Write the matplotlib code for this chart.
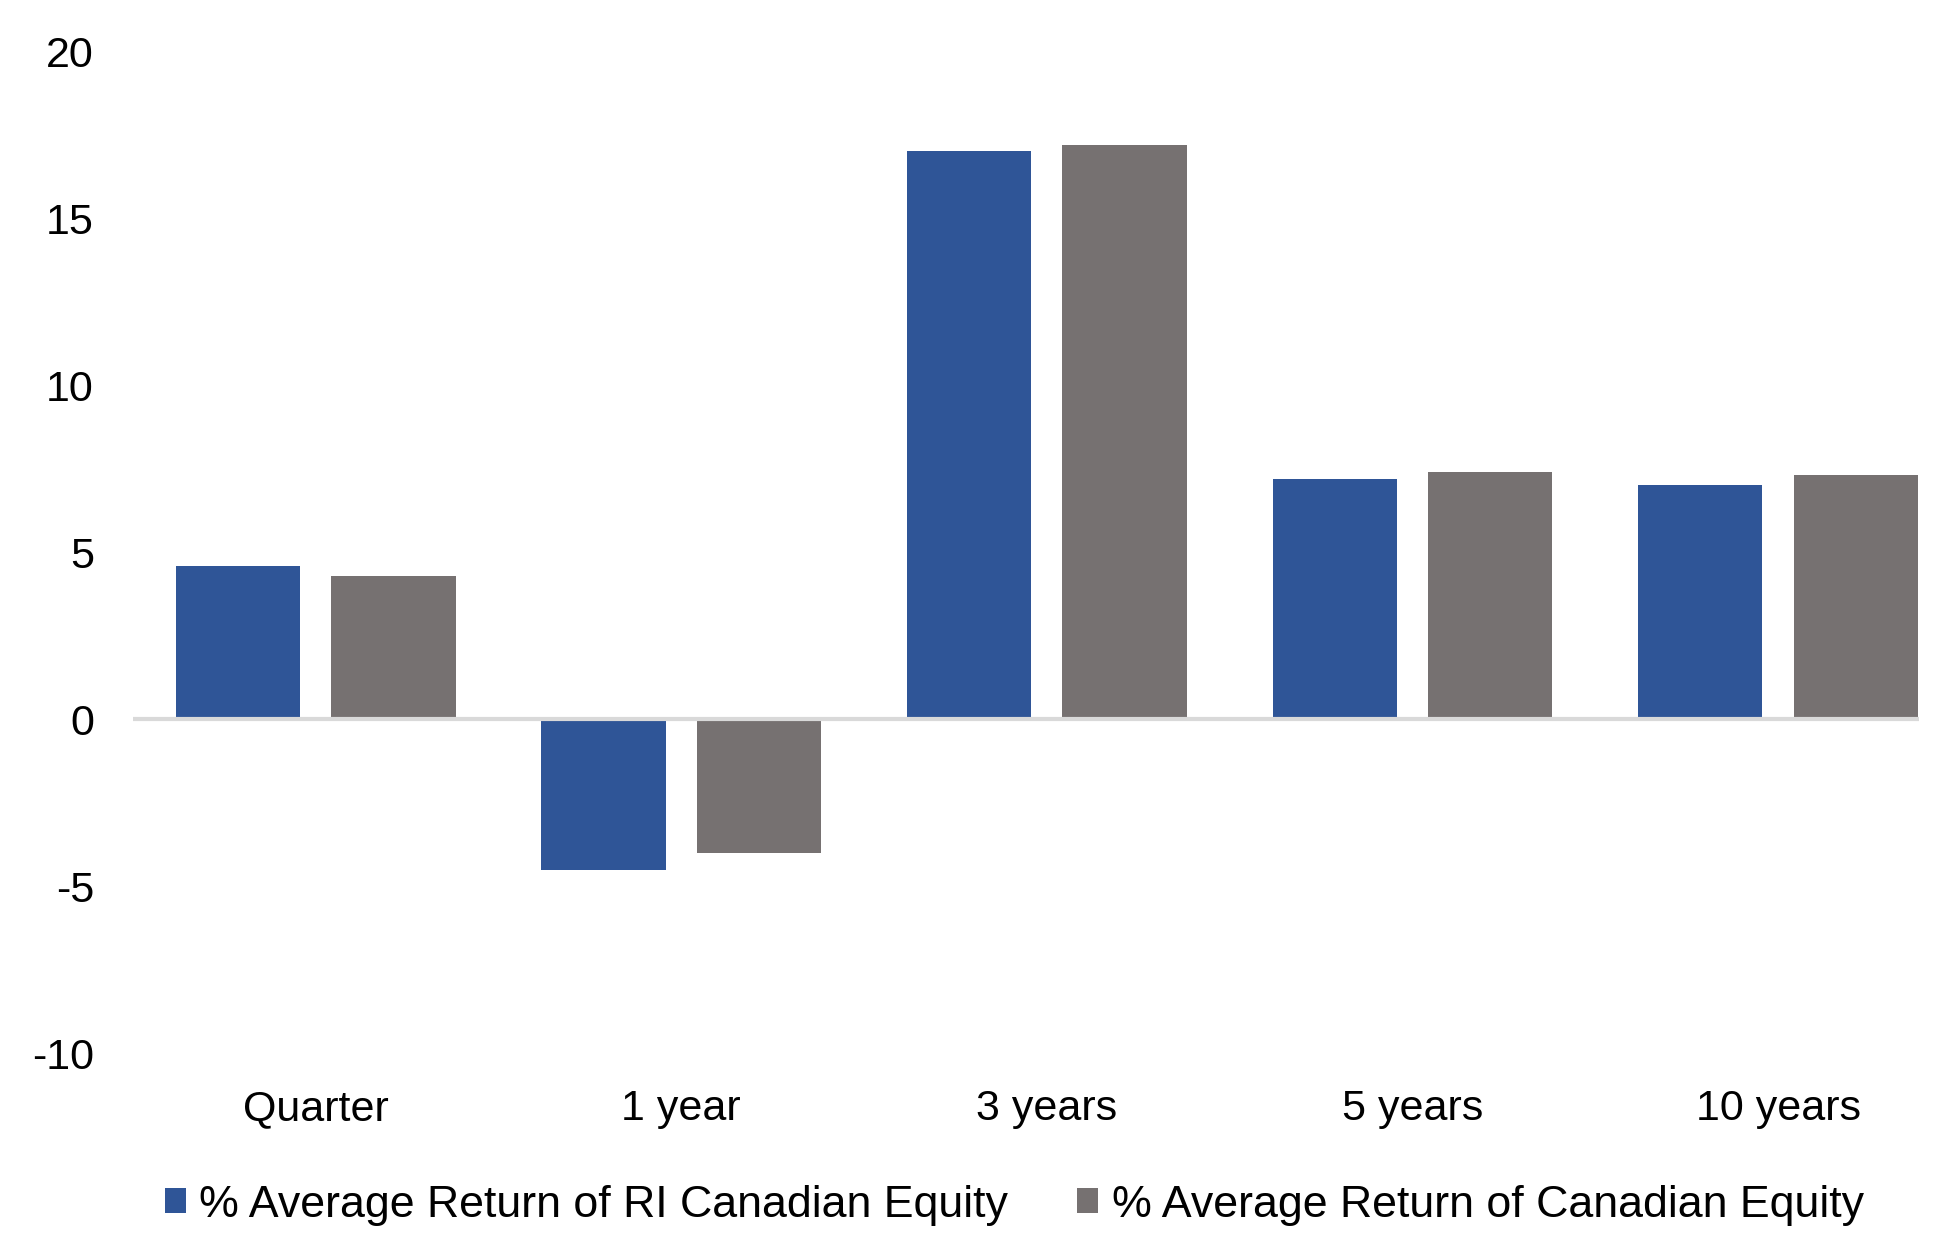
import numpy as np
import matplotlib
matplotlib.use('Agg')
import matplotlib.pyplot as plt

plt.rcParams['font.family'] = ['Liberation Sans', 'DejaVu Sans']

# data
periods = ['Quarter', '1 year', '3 years', '5 years', '10 years']
ri_equity = [4.6, -4.5, 17.0, 7.2, 7.0]
cdn_equity = [4.3, -4.0, 17.2, 7.4, 7.3]
yticks = [-10, -5, 0, 5, 10, 15, 20]

blue = '#2F5597'
grey = '#767171'

fig = plt.figure(figsize=(19.54, 12.6), dpi=100)
ax = fig.add_axes([0.068, 0.164, 0.914, 0.7955])

x = np.arange(len(periods))
w = 0.34
off = 0.2126
ax.bar(x - off, ri_equity, w, color=blue, label='% Average Return of RI Canadian Equity')
ax.bar(x + off, cdn_equity, w, color=grey, label='% Average Return of Canadian Equity')

ax.axhline(0, color='#D9D9D9', lw=3, zorder=3)

ax.set_xlim(-0.5, 4.385)
ax.set_ylim(-10, 20)
ax.set_yticks(yticks)
ax.set_yticklabels([str(t) for t in yticks])
ax.set_xticks(x)
ax.set_xticklabels(periods)
ax.tick_params(axis='both', length=0, labelsize=31, colors='black')
ax.tick_params(axis='y', pad=28)
ax.tick_params(axis='x', pad=26)
for s in ax.spines.values():
    s.set_visible(False)

fig.legend(loc='center', bbox_to_anchor=(0.519, 1 - 1205 / 1260), ncol=2,
           frameon=False, fontsize=32.2, handlelength=0.47, handleheight=0.47,
           handletextpad=0.3, columnspacing=1.55, borderaxespad=0)

fig.savefig('out.png', dpi=100, facecolor='white')
